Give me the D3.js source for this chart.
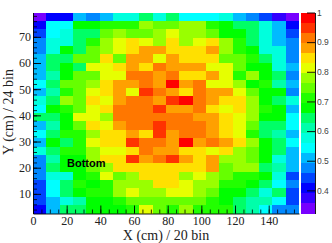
<!DOCTYPE html>
<html>
<head>
<meta charset="utf-8">
<script src="https://cdn.jsdelivr.net/npm/d3@7"></script>
<style>
body { margin: 0; background: #fff; }
svg { display: block; }
</style>
</head>
<body>
<script>
// percent per cell, top row first, 20 columns x 24 rows
var row01 = [34,41,41,51,48,51,58,58,64,58,64,54,54,54,58,51,48,44,37,34];
var row02 = [41,54,54,68,68,71,71,71,78,75,75,78,78,71,68,64,64,58,51,41];
var row03 = [44,54,58,64,64,75,78,75,75,78,81,78,78,75,68,68,64,58,51,44];
var row04 = [48,58,58,64,71,78,81,85,81,78,85,78,81,85,78,71,64,58,51,48];
var row05 = [48,58,68,64,75,78,81,85,88,88,85,85,85,88,78,71,68,58,58,48];
var row06 = [51,64,64,75,75,85,75,88,88,81,88,85,85,85,75,75,71,64,58,48];
var row07 = [51,64,68,64,81,81,85,88,85,92,88,88,88,81,81,75,68,68,58,51];
var row08 = [51,61,68,75,75,81,81,92,92,88,92,85,85,88,81,71,78,68,64,48];
var row09 = [54,64,75,75,78,85,88,88,92,88,98,88,92,81,81,78,68,71,61,51];
var row10 = [51,61,71,75,81,85,88,81,95,92,88,85,92,88,88,81,75,68,68,48];
var row11 = [58,64,78,75,85,81,88,92,92,88,95,98,92,88,85,85,78,68,64,58];
var row12 = [54,68,71,75,81,85,92,92,92,95,88,88,92,85,81,85,78,71,68,51];
var row13 = [64,64,68,81,81,78,92,92,92,92,92,92,88,88,85,81,78,68,68,54];
var row14 = [51,61,68,75,85,81,88,92,92,95,92,92,92,88,85,81,75,64,64,54];
var row15 = [54,64,71,71,78,85,85,88,85,95,88,92,92,88,85,81,71,64,61,51];
var row16 = [51,68,64,71,81,85,85,95,92,92,88,98,88,92,88,85,78,68,64,54];
var row17 = [58,64,71,71,78,81,81,85,92,88,88,85,85,81,85,78,75,68,64,51];
var row18 = [48,61,68,68,78,85,85,95,88,92,95,88,85,88,78,78,75,68,58,51];
var row19 = [48,64,68,68,75,78,85,85,85,85,85,85,85,88,75,78,78,64,61,51];
var row20 = [48,58,58,68,71,81,75,78,85,85,85,78,81,78,75,71,71,68,58,44];
var row21 = [44,54,64,71,68,71,78,78,78,85,85,81,78,78,71,71,68,64,54,48];
var row22 = [44,54,64,68,71,71,78,81,78,78,81,81,78,75,68,68,64,58,64,44];
var row23 = [44,51,58,61,68,68,71,75,75,75,75,75,75,71,68,64,61,61,54,44];
var row24 = [41,51,64,64,68,68,68,71,81,75,71,78,71,71,71,64,61,54,48,48];
var rows = [row01,row02,row03,row04,row05,row06,row07,row08,row09,row10,row11,row12,
	row13,row14,row15,row16,row17,row18,row19,row20,row21,row22,row23,row24];

var palette = ['#7700ff','#3300ff','#0000ff','#0044ff','#0088ff','#00bbff','#00ffff','#00ffdd','#00ffaa','#00ff66',
	'#00ff00','#22ff00','#66ff00','#99ff00','#e6ff00','#ffe000','#ffa000','#ff7700','#ff3300','#ff0000'];

var xTicks = [0,20,40,60,80,100,120,140];
var yTicks = [10,20,30,40,50,60,70];
var zTicks = [0.4,0.5,0.6,0.7,0.8,0.9,1];

var w = 332, h = 243;
var left = 33, right = 299, top_ = 12.5, bottom = 213.5;
var barLeft = 301, barRight = 315;
var xBin = 7.9, yBin = 3.2, yStart = 2.5;
var zMin = 0.322, zMax = 1;

var svg = d3.select("body").append("svg")
	.attr("width", w)
	.attr("height", h);

var x = d3.scaleLinear().domain([0, xBin * 20]).range([left, right]);
var y = d3.scaleLinear().domain([yStart, yStart + yBin * 24]).range([bottom, top_]);
var z = d3.scaleLinear().domain([zMin, zMax]).range([bottom, top_]);
var color = d3.scaleQuantize().domain([zMin, zMax]).range(palette);

// heat map cells
rows.forEach(function(row, r) {
	var yHi = yStart + yBin * (24 - r);
	svg.append("g").selectAll("rect")
		.data(row)
		.enter()
		.append("rect")
		.attr("x", function(d, i) { return x(i * xBin); })
		.attr("y", y(yHi))
		.attr("width", x(xBin) - x(0))
		.attr("height", y(yHi - yBin) - y(yHi))
		.attr("shape-rendering", "crispEdges")
		.style("fill", function(d) { return color(d / 100); });
});

// palette
var step = (zMax - zMin) / palette.length;
svg.append("g").selectAll("rect")
	.data(palette)
	.enter()
	.append("rect")
	.attr("x", barLeft)
	.attr("y", function(d, i) { return z(zMin + step * (i + 1)); })
	.attr("width", barRight - barLeft)
	.attr("height", z(zMin) - z(zMin + step))
	.attr("shape-rendering", "crispEdges")
	.style("fill", function(d) { return d; });

function minorTicks(from, to, by) {
	return d3.range(from, to + 0.001, by);
}

function drawMinor(g, axis) {
	g.call(axis);
	g.selectAll("path,text").remove();
	g.selectAll("line").style("stroke", "#000").style("stroke-width", "0.8");
}

function drawAxis(g, axis, font, size) {
	g.call(axis);
	g.selectAll("text")
		.style("font-family", font)
		.style("font-size", size)
		.style("fill", "#222");
	g.selectAll("path,line").style("stroke", "#000").style("stroke-width", "0.9");
}

// x axis
drawMinor(svg.append("g").attr("transform", "translate(0," + bottom + ")"),
	d3.axisBottom(x).tickValues(minorTicks(0, 155, 5)).tickSize(-4));
var xAxis = svg.append("g").attr("transform", "translate(0," + bottom + ")");
drawAxis(xAxis, d3.axisBottom(x).tickValues(xTicks).tickSize(-8).tickSizeOuter(0).tickPadding(3).tickFormat(d3.format("d")),
	"'Liberation Serif'", "12px");

// y axis
drawMinor(svg.append("g").attr("transform", "translate(" + left + ",0)"),
	d3.axisLeft(y).tickValues(minorTicks(4, 78, 2)).tickSize(-4));
var yAxis = svg.append("g").attr("transform", "translate(" + left + ",0)");
drawAxis(yAxis, d3.axisLeft(y).tickValues(yTicks).tickSize(-8).tickSizeOuter(0).tickPadding(2).tickFormat(d3.format("d")),
	"'Liberation Serif'", "12px");

// palette axis
var zAxis = svg.append("g").attr("transform", "translate(" + barRight + ",0)");
drawAxis(zAxis, d3.axisRight(z).tickValues(zTicks).tickSize(-8).tickSizeOuter(0).tickPadding(2).tickFormat(function(d) { return d; }),
	"'Liberation Sans'", "8.5px");
zAxis.selectAll("text").style("fill", "#444");

svg.append("text")
	.attr("x", 166)
	.attr("y", 240)
	.attr("text-anchor", "middle")
	.style("font-family", "'Liberation Serif'")
	.style("font-size", "14px")
	.style("fill", "#222")
	.text("X (cm) / 20 bin");

svg.append("text")
	.attr("transform", "translate(13,112) rotate(-90)")
	.attr("text-anchor", "middle")
	.style("font-family", "'Liberation Serif'")
	.style("font-size", "14px")
	.style("fill", "#222")
	.text("Y (cm) / 24 bin");

svg.append("text")
	.attr("x", 67)
	.attr("y", 167)
	.style("font-family", "'Liberation Sans'")
	.style("font-weight", "bold")
	.style("font-size", "11px")
	.style("fill", "#000")
	.text("Bottom");
</script>
</body>
</html>
